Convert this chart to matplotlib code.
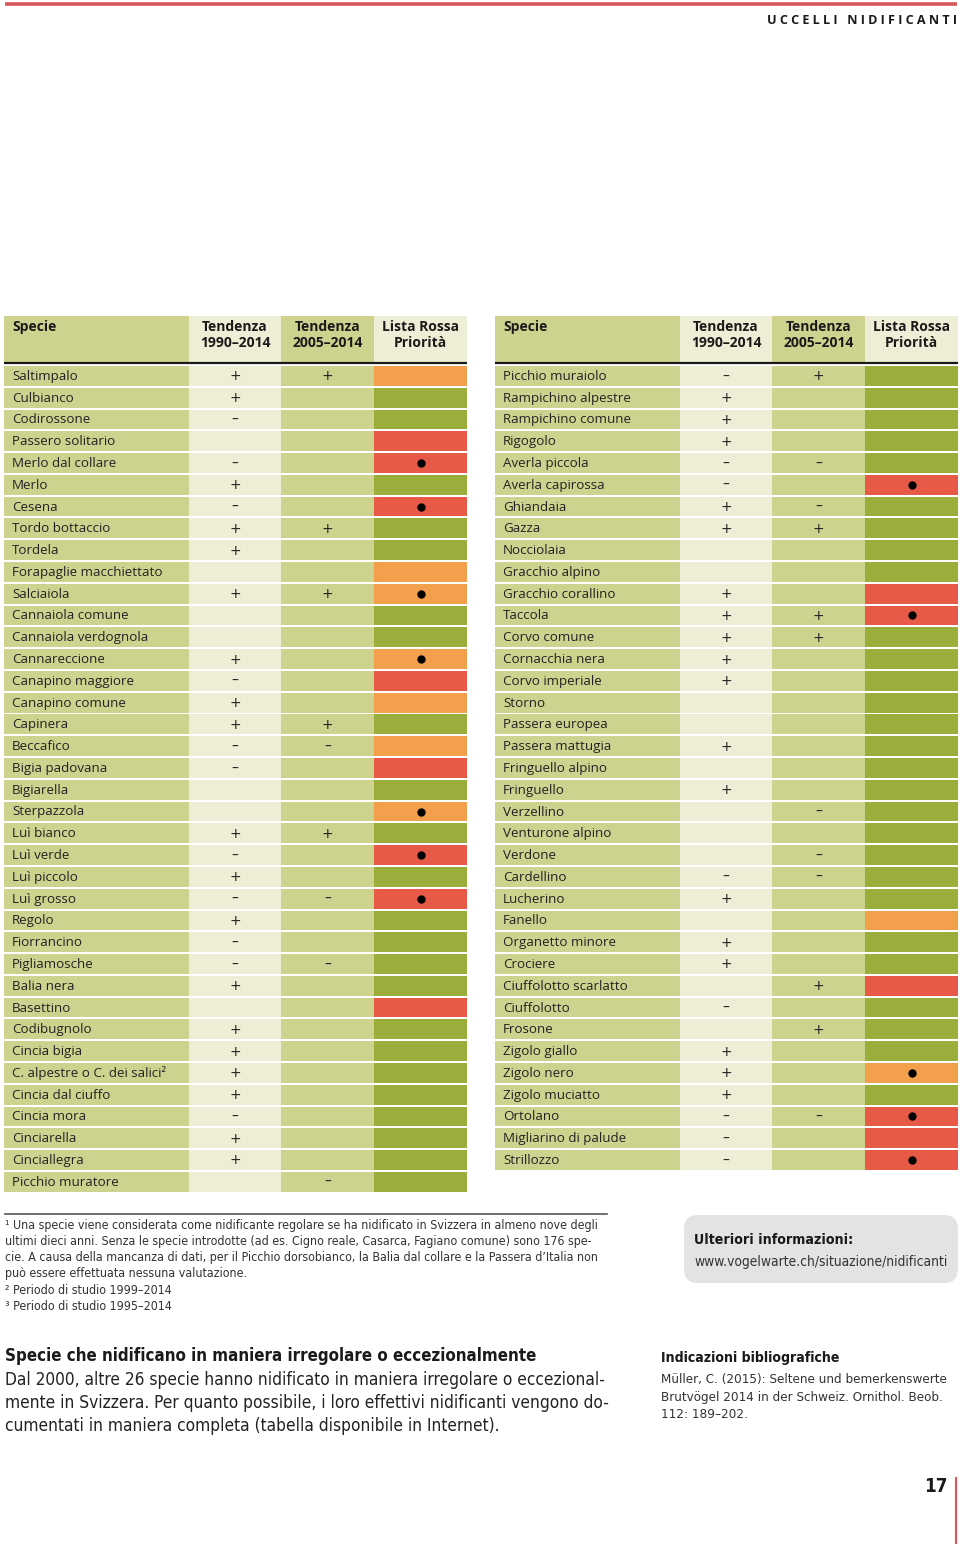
import matplotlib.pyplot as plt
from matplotlib.patches import FancyBboxPatch

# left table
left_species = ["Saltimpalo", "Culbianco", "Codirossone", "Passero solitario", "Merlo dal collare",
                "Merlo", "Cesena", "Tordo bottaccio", "Tordela", "Forapaglie macchiettato",
                "Salciaiola", "Cannaiola comune", "Cannaiola verdognola", "Cannareccione",
                "Canapino maggiore", "Canapino comune", "Capinera", "Beccafico", "Bigia padovana",
                "Bigiarella", "Sterpazzola", "Luì bianco", "Luì verde", "Luì piccolo", "Luì grosso",
                "Regolo", "Fiorrancino", "Pigliamosche", "Balia nera", "Basettino", "Codibugnolo",
                "Cincia bigia", "C. alpestre o C. dei salici²", "Cincia dal ciuffo", "Cincia mora",
                "Cinciarella", "Cinciallegra", "Picchio muratore"]
left_t1990 = ["+", "+", "–", "", "–", "+", "–", "+", "+", "", "+", "", "", "+", "–", "+", "+", "–", "–",
              "", "", "+", "–", "+", "–", "+", "–", "–", "+", "", "+", "+", "+", "+", "–", "+", "+", ""]
left_t2005 = ["+", "", "", "", "", "", "", "+", "", "", "+", "", "", "", "", "", "+", "–", "",
              "", "", "+", "", "", "–", "", "", "–", "", "", "", "", "", "", "", "", "", "–"]
left_lista = ["O", "G", "G", "R", "R", "G", "R", "G", "G", "O", "O", "G", "G", "O", "R", "O", "G", "O", "R",
              "G", "O", "G", "R", "G", "R", "G", "G", "G", "G", "R", "G", "G", "G", "G", "G", "G", "G", "G"]
left_prio = [0, 0, 0, 0, 1, 0, 1, 0, 0, 0, 1, 0, 0, 1, 0, 0, 0, 0, 0,
             0, 1, 0, 1, 0, 1, 0, 0, 0, 0, 0, 0, 0, 0, 0, 0, 0, 0, 0]

# right table
right_species = ["Picchio muraiolo", "Rampichino alpestre", "Rampichino comune", "Rigogolo",
                 "Averla piccola", "Averla capirossa", "Ghiandaia", "Gazza", "Nocciolaia",
                 "Gracchio alpino", "Gracchio corallino", "Taccola", "Corvo comune", "Cornacchia nera",
                 "Corvo imperiale", "Storno", "Passera europea", "Passera mattugia", "Fringuello alpino",
                 "Fringuello", "Verzellino", "Venturone alpino", "Verdone", "Cardellino", "Lucherino",
                 "Fanello", "Organetto minore", "Crociere", "Ciuffolotto scarlatto", "Ciuffolotto",
                 "Frosone", "Zigolo giallo", "Zigolo nero", "Zigolo muciatto", "Ortolano",
                 "Migliarino di palude", "Strillozzo"]
right_t1990 = ["–", "+", "+", "+", "–", "–", "+", "+", "", "", "+", "+", "+", "+", "+", "", "", "+", "",
               "+", "", "", "", "–", "+", "", "+", "+", "", "–", "", "+", "+", "+", "–", "–", "–"]
right_t2005 = ["+", "", "", "", "–", "", "–", "+", "", "", "", "+", "+", "", "", "", "", "", "",
               "", "–", "", "–", "–", "", "", "", "", "+", "", "+", "", "", "", "–", "", ""]
right_lista = ["G", "G", "G", "G", "G", "R", "G", "G", "G", "G", "R", "R", "G", "G", "G", "G", "G", "G", "G",
               "G", "G", "G", "G", "G", "G", "O", "G", "G", "R", "G", "G", "G", "O", "G", "R", "R", "R"]
right_prio = [0, 0, 0, 0, 0, 1, 0, 0, 0, 0, 0, 1, 0, 0, 0, 0, 0, 0, 0,
              0, 0, 0, 0, 0, 0, 0, 0, 0, 0, 0, 0, 0, 1, 0, 1, 0, 1]

headers = ["Specie", "Tendenza\n1990–2014", "Tendenza\n2005–2014", "Lista Rossa\nPriorità"]

KHAKI = "#cdd38f"
CREAM = "#eeeed6"
LR_COLORS = {"G": "#9bad3b", "O": "#f2a04b", "R": "#e85a48"}

plt.rcParams['font.family'] = ['Open Sans', 'DejaVu Sans']
fig = plt.figure(figsize=(9.6, 15.44), dpi=100)
ax = fig.add_axes([0, 0, 1, 1])
ax.set_xlim(0, 960)
ax.set_ylim(1544, 0)
ax.axis('off')

ROW_H = 21.78
CELL_H = 19.8


def draw_table(x0, species, t1990, t2005, lista, prio):
    edges = [x0, x0 + 185, x0 + 277, x0 + 370, x0 + 463]
    n = len(species)
    tops = [366 + i * ROW_H for i in range(n)]
    # header cells
    head_cols = [KHAKI, CREAM, KHAKI, CREAM]
    for j in range(4):
        ax.bar(edges[j], 46, width=edges[j + 1] - edges[j], bottom=316, align='edge',
               color=head_cols[j], linewidth=0)
    ax.plot([edges[0], edges[4]], [362.8, 362.8], color='#1a1a1a', lw=1.6, solid_capstyle='butt')
    ax.text(edges[0] + 8, 320, headers[0], fontsize=10, fontweight='bold', va='top', ha='left',
            color='#1a1a1a')
    for j in range(1, 4):
        ax.text((edges[j] + edges[j + 1]) / 2, 320, headers[j], fontsize=10, fontweight='bold',
                va='top', ha='center', linespacing=1.15, color='#1a1a1a')
    # body cells
    body_cols = [[KHAKI] * n, [CREAM] * n, [KHAKI] * n, [LR_COLORS[c] for c in lista]]
    for j in range(4):
        ax.bar([edges[j]] * n, [CELL_H] * n, width=edges[j + 1] - edges[j], bottom=tops,
               align='edge', color=body_cols[j], linewidth=0)
    for i in range(n):
        yc = tops[i] + CELL_H / 2
        ax.text(edges[0] + 8, yc + 0.5, species[i], fontsize=9.6, va='center', ha='left',
                color='#222222')
        for j, col in ((1, t1990), (2, t2005)):
            if col[i]:
                ax.text((edges[j] + edges[j + 1]) / 2, yc + 0.5, col[i], fontsize=10,
                        family='DejaVu Sans', va='center', ha='center', color='#222222')
        if prio[i]:
            ax.plot((edges[3] + edges[4]) / 2, yc, 'o', color='black', markersize=5)


draw_table(4, left_species, left_t1990, left_t2005, left_lista, left_prio)
draw_table(495, right_species, right_t1990, right_t2005, right_lista, right_prio)

# page header
ax.plot([5, 957], [3.5, 3.5], color='#d9575a', lw=2.6, solid_capstyle='butt')
ax.text(957, 20, "U C C E L L I   N I D I F I C A N T I", fontsize=9.1, fontweight='bold',
        ha='right', va='center', color='#1a1a1a')

# footnotes, condensed face
NARROW = dict(family='DejaVu Sans', stretch='condensed')
ax.plot([5, 607], [1214, 1214], color='#555555', lw=1.2)
foot = ["¹ Una specie viene considerata come nidificante regolare se ha nidificato in Svizzera in almeno nove degli",
        "ultimi dieci anni. Senza le specie introdotte (ad es. Cigno reale, Casarca, Fagiano comune) sono 176 spe-",
        "cie. A causa della mancanza di dati, per il Picchio dorsobianco, la Balia dal collare e la Passera d’Italia non",
        "può essere effettuata nessuna valutazione.",
        "² Periodo di studio 1999–2014",
        "³ Periodo di studio 1995–2014"]
for k, line in enumerate(foot):
    ax.text(5, 1225 + k * 16.3, line, fontsize=8.95, va='center', ha='left',
            color='#333333', **NARROW)

box = FancyBboxPatch((684, 1215), 274, 68, boxstyle="round,pad=0,rounding_size=14",
                     facecolor='#e3e3e3', edgecolor='none')
ax.add_patch(box)
ax.text(694, 1240, "Ulteriori informazioni:", fontsize=10.2, fontweight='bold',
        va='center', ha='left', color='#1a1a1a', **NARROW)
ax.text(694, 1262, "www.vogelwarte.ch/situazione/nidificanti", fontsize=9.9,
        va='center', ha='left', color='#333333', **NARROW)

# lower text
ax.text(5, 1356, "Specie che nidificano in maniera irregolare o eccezionalmente", fontsize=12.2,
        fontweight='bold', va='center', ha='left', color='#1a1a1a', **NARROW)
body = ["Dal 2000, altre 26 specie hanno nidificato in maniera irregolare o eccezional-",
        "mente in Svizzera. Per quanto possibile, i loro effettivi nidificanti vengono do-",
        "cumentati in maniera completa (tabella disponibile in Internet)."]
for k, line in enumerate(body):
    ax.text(5, 1380 + k * 23, line, fontsize=12.4, va='center', ha='left',
            color='#222222', **NARROW)

ax.text(661, 1358, "Indicazioni bibliografiche", fontsize=10.1, fontweight='bold',
        va='center', ha='left', color='#1a1a1a', **NARROW)
ref = ["Müller, C. (2015): Seltene und bemerkenswerte",
       "Brutvögel 2014 in der Schweiz. Ornithol. Beob.",
       "112: 189–202."]
for k, line in enumerate(ref):
    ax.text(661, 1380 + k * 17, line, fontsize=9.6, va='center', ha='left',
            color='#333333', **NARROW)

# page number
ax.text(948, 1486, "17", fontsize=13.5, fontweight='bold', va='center', ha='right',
        color='#1a1a1a', **NARROW)
ax.plot([955.5, 955.5], [1478, 1544], color='#d9575a', lw=1.5)

fig.savefig("out.png", dpi=100)
